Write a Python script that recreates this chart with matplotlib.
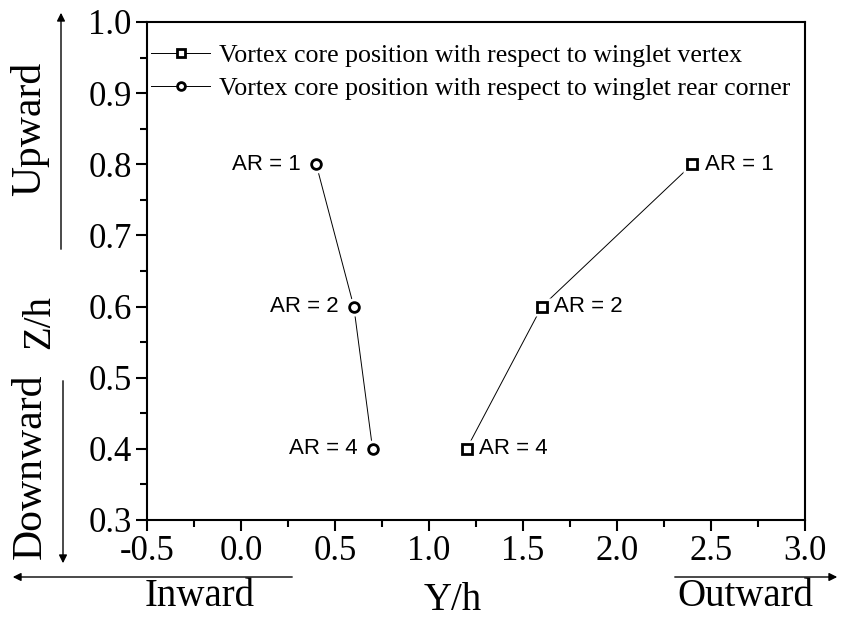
import matplotlib
matplotlib.use("Agg")
import matplotlib.pyplot as plt
from matplotlib.ticker import MultipleLocator

# vortex core positions for each aspect ratio
ar_labels = ["AR = 1", "AR = 2", "AR = 4"]
vertex_y = [2.4, 1.6, 1.2]
vertex_z = [0.8, 0.6, 0.4]
rear_y = [0.4, 0.6, 0.7]
rear_z = [0.8, 0.6, 0.4]

serif = "Liberation Serif"
sans = "Liberation Sans"
plt.rcParams["axes.unicode_minus"] = False

W, H = 843, 617
fig = plt.figure(figsize=(W / 100, H / 100), dpi=100)
ax = fig.add_axes([147 / W, 1 - 520 / H, (805 - 147) / W, (520 - 22) / H])

mk = dict(ms=7, mfc="white", mec="black", mew=2)
ax.plot(vertex_y, vertex_z, color="black", lw=0.7, marker="s", zorder=2,
        label="Vortex core position with respect to winglet vertex", **mk)
ax.plot(rear_y, rear_z, color="black", lw=0.7, marker="o", zorder=2,
        label="Vortex core position with respect to winglet rear corner", **mk)

# white halo so the connecting lines stop short of the symbols
for xs, zs, m in [(vertex_y, vertex_z, "s"), (rear_y, rear_z, "o")]:
    ax.plot(xs, zs, ls="none", marker=m, ms=13, mfc="white", mec="none", zorder=3)
    ax.plot(xs, zs, ls="none", marker=m, zorder=4, **mk)

for x, z, t in zip(vertex_y, vertex_z, ar_labels):
    ax.annotate(t, (x, z), xytext=(9, 0), textcoords="offset points",
                ha="left", va="center", fontsize=16, family=sans)
for x, z, t in zip(rear_y, rear_z, ar_labels):
    ax.annotate(t, (x, z), xytext=(-11, 0), textcoords="offset points",
                ha="right", va="center", fontsize=16, family=sans)

ax.set_xlim(-0.5, 3.0)
ax.set_ylim(0.3, 1.0)
ax.xaxis.set_major_locator(MultipleLocator(0.5))
ax.xaxis.set_minor_locator(MultipleLocator(0.25))
ax.yaxis.set_major_locator(MultipleLocator(0.1))
ax.yaxis.set_minor_locator(MultipleLocator(0.05))
ax.tick_params(which="major", direction="out", length=8, width=1.5,
               labelsize=25, pad=3)
ax.tick_params(which="minor", direction="out", length=5, width=1.5)
for lab in ax.get_xticklabels() + ax.get_yticklabels():
    lab.set_family(serif)
for s in ax.spines.values():
    s.set_linewidth(1.5)

ax.legend(loc="upper left", bbox_to_anchor=(0.006, 0.956), frameon=False,
          prop={"family": serif, "size": 18.6}, handlelength=2.3,
          handletextpad=0.35, borderaxespad=0, borderpad=0,
          labelspacing=0.38, markerscale=0.8)

# axis titles and direction arrows
big = dict(ha="center", va="center", fontsize=28, family=serif)
fig.text(453 / W, 1 - 600 / H, "Y/h", **big)
fig.text(40 / W, 1 - 322 / H, "Z/h", rotation=90, **big)
fig.text(200 / W, 1 - 597 / H, "Inward", **big)
fig.text(745 / W, 1 - 597 / H, "Outward", **big)
big["fontsize"] = 30
fig.text(30 / W, 1 - 129 / H, "Upward", rotation=90, **big)
fig.text(30 / W, 1 - 466 / H, "Downward", rotation=90, **big)

arrow = dict(arrowstyle="-|>", color="black", lw=1.0, mutation_scale=12)
arrows = [((61, 10), (61, 252)), ((63, 566), (63, 378)),
          ((10, 577), (295, 577)), ((840, 577), (672, 577))]
for (hx, hy), (tx, ty) in arrows:
    ax.annotate("", xy=(hx, H - hy), xytext=(tx, H - ty),
                xycoords="figure pixels", textcoords="figure pixels",
                arrowprops=arrow)

fig.savefig("out.png", dpi=100)
